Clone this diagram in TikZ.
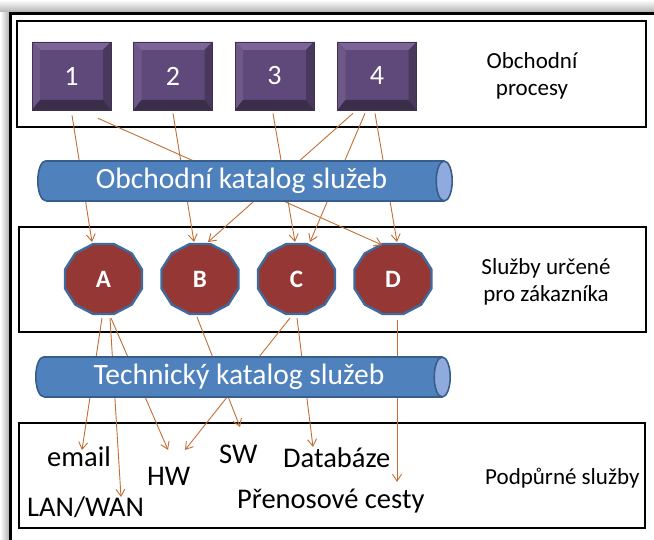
\documentclass[tikz,border=0pt]{standalone}
\usepackage{fontspec}
\setmainfont{Carlito}
\usetikzlibrary{arrows.meta,calc}

\definecolor{pface}{HTML}{5F497A}
\definecolor{pedge}{HTML}{3F3151}
\definecolor{pbtop}{HTML}{7B6597}
\definecolor{pbleft}{HTML}{6D5888}
\definecolor{pbright}{HTML}{47385C}
\definecolor{pbbot}{HTML}{3A2E4B}
\definecolor{svcfill}{HTML}{953735}
\definecolor{svcedge}{HTML}{3E6A9C}
\definecolor{pipefill}{HTML}{4F81BD}
\definecolor{pipeedge}{HTML}{385D8A}
\definecolor{pipeend}{HTML}{8FAADC}
\definecolor{linkc}{HTML}{C26F36}

\tikzset{
  layerbox/.style={draw=black, line width=1.8pt},
  procbox/.style={rectangle, minimum width=79pt, minimum height=68pt, inner sep=0pt,
    fill=pface, draw=pedge, line width=0.6pt, text=white,
    font=\fontsize{28}{28}\selectfont,
    path picture={
      \path (path picture bounding box.north west) coordinate (bNW)
            (path picture bounding box.north east) coordinate (bNE)
            (path picture bounding box.south east) coordinate (bSE)
            (path picture bounding box.south west) coordinate (bSW);
      \fill[pbtop] (bNW) -- (bNE) -- ($(bNE)+(-8,8)$) -- ($(bNW)+(8,8)$) -- cycle;
      \fill[pbleft] (bNW) -- ($(bNW)+(8,8)$) -- ($(bSW)+(8,-10)$) -- (bSW) -- cycle;
      \fill[pbright] (bNE) -- (bSE) -- ($(bSE)+(-8,-10)$) -- ($(bNE)+(-8,8)$) -- cycle;
      \fill[pbbot] (bSW) -- ($(bSW)+(8,-10)$) -- ($(bSE)+(-8,-10)$) -- (bSE) -- cycle;
    }},
  svc/.style={circle, minimum size=60pt, inner sep=0pt, text=white,
    font=\bfseries\fontsize{25}{25}\selectfont},
  svcshape/.style={fill=svcfill, draw=svcedge, line width=2.4pt, line join=round},
  pipe/.style={rectangle, minimum height=40pt, minimum width=398pt, inner sep=0pt,
    fill=pipefill, text=white, font=\fontsize{29.5}{29.5}\selectfont},
  pipeline/.style={draw=pipeedge, line width=1.6pt},
  leaf/.style={anchor=base west, inner sep=0pt, font=\fontsize{28.5}{28.5}\selectfont},
  note/.style={align=center, inner sep=0pt, font=\fontsize{23}{27}\selectfont},
  conn/.style={draw=linkc, line width=0.9pt, -{Straight Barb[length=7pt,width=9pt]}}
}

\begin{document}
\begin{tikzpicture}[x=1pt,y=-1pt]
\useasboundingbox (0,0) rectangle (654,540);

% soft shadow along the outer frame
\shade[left color=white, right color=black!30] (0,0) rectangle (9,540);
\shade[top color=white, bottom color=black!30] (0,0) rectangle (654,12);
\draw[line width=3pt] (10.5,560) -- (10.5,13.5) -- (680,13.5);

% the three layers
\draw[layerbox] (17,21) rectangle (646,127);
\draw[layerbox] (19,227) rectangle (646,332);
\draw[layerbox] (19,423) rectangle (645,528);

% business processes
\node[procbox] (p1) at (71.5,76) {1};
\node[procbox] (p2) at (173,76) {2};
\node[procbox] (p3) at (274.5,76) {3};
\node[procbox] (p4) at (377,76) {4};

% customer-facing services
\foreach \nm/\xx in {A/103.5,B/200,C/296.5,D/393} {
  \coordinate (o\nm) at (\xx,279);
  \draw[svcshape] ($(o\nm)+(15:39.9 and 36.2)$)
    \foreach \a in {45,75,...,345} { -- ($(o\nm)+(\a:39.9 and 36.2)$) } -- cycle;
  \node[svc] (\nm) at (o\nm) {\nm};
}

% labels of the layers
\node[note] (obch) at (532,76) {Obchodní\\procesy};
\node[note] (urc) at (546,282) {Služby určené\\pro zákazníka};
\node[note, anchor=base west] (podp) at (485,484) {Podpůrné služby};

% supporting services
\node[leaf] (email) at (47,466) {email};
\node[leaf] (lan) at (27,516) {LAN/WAN};
\node[leaf] (hw) at (147,485) {HW};
\node[leaf] (sw) at (219,463) {SW};
\node[leaf] (db) at (283,467) {Databáze};
\node[leaf] (cesty) at (237,508) {Přenosové cesty};

% processes -> services
\draw[conn] ($(p1.south)+(0.5,5)$) -- ($(A)+(-11.5,-37)$);
\draw[conn] ($(p1.south)+(26.5,8)$) -- ($(D)+(-11,-34)$);
\draw[conn] ($(p2.south)+(0,3)$) -- ($(B)+(-6,-37)$);
\draw[conn] ($(p3.south)+(-1.5,3)$) -- ($(C)+(-1.5,-37)$);
\draw[conn] ($(p4.south)+(-24,3)$) -- ($(B)+(8,-37)$);
\draw[conn] ($(p4.south)+(-12,3)$) -- ($(C)+(13.5,-37)$);
\draw[conn] ($(p4.south)+(-2,3)$) -- ($(D)+(4,-37)$);

% services -> supporting services
\draw[conn] ($(A)+(-1.5,39)$) -- ($(email.base west)+(35,-16)$);
\draw[conn] ($(A)+(6.5,39)$) -- ($(lan.base west)+(94,-19)$);
\draw[conn] ($(A)+(7.5,39)$) -- ($(hw.base west)+(21,-35)$);
\draw[conn] ($(B)+(-3,38)$) -- ($(sw.base west)+(21,-36)$);
\draw[conn] ($(C)+(-6.5,39)$) -- ($(hw.base west)+(38,-35)$);
\draw[conn] ($(C)+(0.5,39)$) -- ($(db.base west)+(30,-20)$);
\draw[conn] ($(D)+(4,41)$) -- ($(cesty.base west)+(160,-26)$);

% service catalogues drawn as pipes over the links
\node[pipe] (bcat) at (245,181) {\hspace*{-7pt}Obchodní katalog služeb};
\node[pipe] (tcat) at (243,377) {\hspace*{-8pt}Technický katalog služeb};
\foreach \p in {bcat,tcat} {
  \fill[pipefill] (\p.north west) arc[start angle=-90, end angle=-270, x radius=8, y radius=20] -- cycle;
  \draw[pipeline] (\p.north west) arc[start angle=-90, end angle=-270, x radius=8, y radius=20];
  \draw[pipeline] (\p.north west) -- (\p.north east) (\p.south west) -- (\p.south east);
  \draw[pipeline, fill=pipeend] (\p.east) ellipse [x radius=8, y radius=20];
}
\end{tikzpicture}
\end{document}
